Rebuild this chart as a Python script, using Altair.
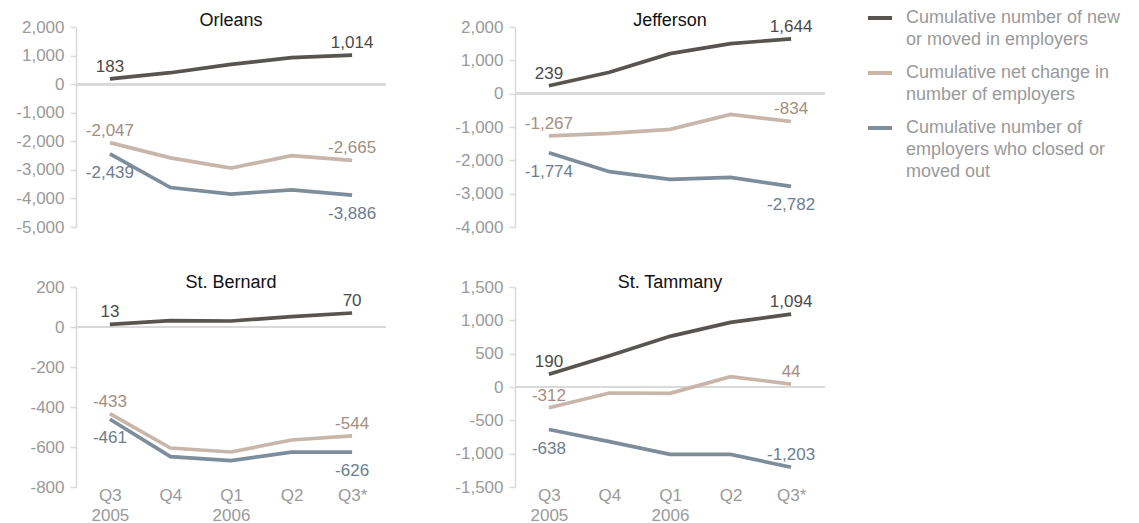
import altair as alt
import pandas as pd

quarters = ["Q3 2005", "Q4", "Q1 2006", "Q2", "Q3*"]
series = [
    "Cumulative number of new|or moved in employers",
    "Cumulative net change in|number of employers",
    "Cumulative number of|employers who closed or|moved out",
]
line_colors = ["#58544f", "#c8b6aa", "#7e8d9b"]
label_colors = ["#4d4a48", "#a48e80", "#6c7e90"]

parishes = ["Orleans", "Jefferson", "St. Bernard", "St. Tammany"]

orleans_new = [183, 400, 690, 930, 1014]
orleans_net = [-2047, -2580, -2940, -2500, -2665]
orleans_closed = [-2439, -3620, -3850, -3700, -3886]

jefferson_new = [239, 640, 1200, 1500, 1644]
jefferson_net = [-1267, -1190, -1070, -620, -834]
jefferson_closed = [-1774, -2340, -2570, -2510, -2782]

stbernard_new = [13, 32, 30, 52, 70]
stbernard_net = [-433, -605, -625, -565, -544]
stbernard_closed = [-461, -648, -668, -626, -626]

sttammany_new = [190, 470, 760, 970, 1094]
sttammany_net = [-312, -90, -95, 155, 44]
sttammany_closed = [-638, -820, -1010, -1010, -1203]

values = {
    "Orleans": [orleans_new, orleans_net, orleans_closed],
    "Jefferson": [jefferson_new, jefferson_net, jefferson_closed],
    "St. Bernard": [stbernard_new, stbernard_net, stbernard_closed],
    "St. Tammany": [sttammany_new, sttammany_net, sttammany_closed],
}

# side of the first / last value label for each series
label_sides = {
    "Orleans": [["above", "above"], ["above", "above"], ["below", "below"]],
    "Jefferson": [["above", "above"], ["above", "above"], ["below", "below"]],
    "St. Bernard": [["above", "above"], ["above", "above"], ["below", "below"]],
    "St. Tammany": [["above", "above"], ["above", "above"], ["below", "above"]],
}

y_domains = {
    "Orleans": [-5000, 2000],
    "Jefferson": [-4000, 2000],
    "St. Bernard": [-800, 200],
    "St. Tammany": [-1500, 1500],
}
y_ticks = {
    "Orleans": [-5000, -4000, -3000, -2000, -1000, 0, 1000, 2000],
    "Jefferson": [-4000, -3000, -2000, -1000, 0, 1000, 2000],
    "St. Bernard": [-800, -600, -400, -200, 0, 200],
    "St. Tammany": [-1500, -1000, -500, 0, 500, 1000, 1500],
}

rows = []
for p in parishes:
    for s_i, s in enumerate(series):
        for q_i, q in enumerate(quarters):
            v = values[p][s_i][q_i]
            side = ""
            if q_i == 0:
                side = label_sides[p][s_i][0]
            elif q_i == len(quarters) - 1:
                side = label_sides[p][s_i][1]
            rows.append({"parish": p, "series": s, "quarter": q, "value": v,
                         "side": side, "label": f"{v:,}"})
df = pd.DataFrame(rows)

FONT = "Liberation Sans"
GRAY = "#9a9a9a"
LIGHT = "#d9d9d9"


def panel(name, show_x, title_offset):
    d = df[df["parish"] == name]
    if show_x:
        xaxis = alt.Axis(
            labelExpr="split(datum.label, ' ')",
            domain=False, ticks=False, labelAngle=0, labelPadding=0,
            labelFontSize=17, labelColor=GRAY, labelLineHeight=20, labelFont=FONT,
        )
    else:
        xaxis = None
    x = alt.X("quarter:N", sort=quarters, scale=alt.Scale(type="point", padding=0.56),
              axis=xaxis, title=None)
    y = alt.Y(
        "value:Q",
        scale=alt.Scale(domain=y_domains[name], nice=False, zero=False),
        axis=alt.Axis(
            values=y_ticks[name], tickCount=20, format=",.0f",
            labelExpr="replace(datum.label, '\u2212', '-')",
            grid=False, labelOverlap=False,
            domainColor=LIGHT, domainWidth=1.5, tickColor=LIGHT, tickWidth=1.5, tickSize=6,
            labelPadding=6, labelFontSize=17, labelColor=GRAY, labelFont=FONT,
            minExtent=63, maxExtent=63,
        ),
        title=None,
    )
    base = alt.Chart(d)
    zero = base.mark_rule(color=LIGHT, strokeWidth=2).encode(y=alt.datum(0))
    lines = base.mark_line(strokeWidth=3.7).encode(
        x=x, y=y,
        color=alt.Color(
            "series:N", scale=alt.Scale(domain=series, range=line_colors),
            legend=alt.Legend(title=None, labelExpr="split(datum.label, '|')"),
        ),
    )
    txt_enc = dict(
        x=x, y=y,
        text=alt.Text("label:N"),
        fill=alt.Fill("series:N", scale=alt.Scale(domain=series, range=label_colors), legend=None),
    )
    above = base.transform_filter("datum.side == 'above'").mark_text(
        dy=-12, fontSize=17, font=FONT, baseline="middle"
    ).encode(**txt_enc)
    below = base.transform_filter("datum.side == 'below'").mark_text(
        dy=19, fontSize=17, font=FONT, baseline="middle"
    ).encode(**txt_enc)
    return alt.layer(zero, lines, above, below).properties(
        width=310, height=200,
        title=alt.TitleParams(name, frame="group", offset=title_offset, fontSize=18,
                              font=FONT, fontWeight="normal", color="#111111", anchor="middle"),
    )


top = alt.hconcat(panel("Orleans", False, -12), panel("Jefferson", False, -12), spacing=65)
bottom = alt.hconcat(panel("St. Bernard", True, -14), panel("St. Tammany", True, -14), spacing=65)

chart = alt.vconcat(top, bottom, spacing=39).properties(
    padding={"left": 5, "top": -4, "right": 5, "bottom": 3}
).configure(
    font=FONT, style={"guide-label": {"lineHeight": 22}}
).configure_view(stroke=None).configure_legend(
    orient="none", legendX=790, legendY=-23,
    symbolType="stroke", symbolStrokeWidth=4, symbolSize=576,
    labelFontSize=18, labelColor=GRAY, labelFont=FONT, labelOffset=12, labelLimit=400,
    rowPadding=10,
)

chart.save("out.html", embed_options={"renderer": "svg", "actions": False})
